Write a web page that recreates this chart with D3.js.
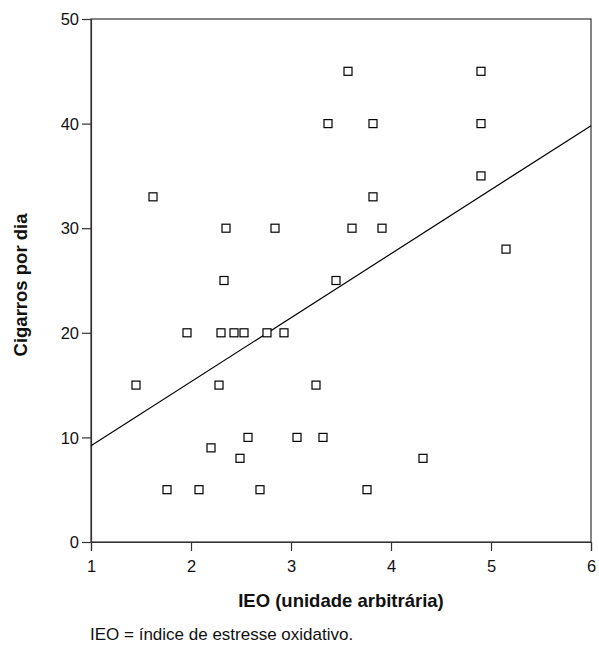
<!DOCTYPE html>
<html>
<head>
<meta charset="utf-8">
<script src="https://cdn.jsdelivr.net/npm/d3@7"></script>
<style>
  html, body { margin: 0; padding: 0; background: #fff; }
  svg { display: block; font-family: "Liberation Sans", Arial, Helvetica, sans-serif; }
</style>
</head>
<body>
<svg id="chart" width="599" height="645"></svg>
<script>
// IEO (arbitrary units) and cigarettes per day for each subject
const ieoValues = [3.57, 4.90, 3.37, 3.82, 4.90,
  1.62, 3.82, 4.90, 2.35, 2.84, 3.61, 3.91, 5.15, 2.33, 3.45,
  1.96, 2.30, 2.43, 2.53, 2.76, 2.93,
  1.45, 2.28, 3.25,
  2.57, 3.06, 3.32,
  2.20, 2.49, 4.32,
  1.76, 2.08, 2.69, 3.76];
const cigarettesValues = [45, 45, 40, 40, 40,
  33, 33, 35, 30, 30, 30, 30, 28, 25, 25,
  20, 20, 20, 20, 20, 20,
  15, 15, 15,
  10, 10, 10,
  9, 8, 8,
  5, 5, 5, 5];
// fitted regression line endpoints
const fitX = [1, 6];
const fitY = [9.2, 39.8];
const xTicks = [1, 2, 3, 4, 5, 6];
const yTicks = [0, 10, 20, 30, 40, 50];
const xTitle = "IEO (unidade arbitrária)";
const yTitle = "Cigarros por dia";
const footnote = "IEO = índice de estresse oxidativo.";

(function () {
const svg = d3.select("#chart");
const mLeft = 91, mRight = 591, mTop = 19, mBottom = 542;

const x = d3.scaleLinear().domain([1, 6]).range([mLeft, mRight]);
const y = d3.scaleLinear().domain([0, 50]).range([mBottom, mTop]);

const axisColor = "#333";
const fontFam = '"Liberation Sans", Arial, Helvetica, sans-serif';

// frame
svg.append("rect")
  .attr("x", mLeft).attr("y", mTop)
  .attr("width", mRight - mLeft).attr("height", mBottom - mTop)
  .attr("fill", "none").attr("stroke", axisColor).attr("stroke-width", 1.2);

const xAxis = svg.append("g")
  .attr("transform", `translate(0,${mBottom})`)
  .call(d3.axisBottom(x).tickValues(xTicks).tickFormat(d3.format("d")).tickSize(9).tickPadding(9));
const yAxis = svg.append("g")
  .attr("transform", `translate(${mLeft},0)`)
  .call(d3.axisLeft(y).tickValues(yTicks).tickFormat(d3.format("d")).tickSize(9).tickPadding(3));

[xAxis, yAxis].forEach(g => {
  g.select(".domain").attr("stroke", axisColor).attr("stroke-width", 1.2);
  g.selectAll(".tick line").attr("stroke", axisColor).attr("stroke-width", 1.2);
  g.selectAll(".tick text")
    .attr("fill", "#111")
    .style("font-size", "16.5px")
    .style("font-family", fontFam);
});
yAxis.selectAll(".tick text").attr("dy", "0.35em");

// regression line
svg.append("line")
  .attr("x1", x(fitX[0])).attr("y1", y(fitY[0]))
  .attr("x2", x(fitX[1])).attr("y2", y(fitY[1]))
  .attr("stroke", "#000").attr("stroke-width", 1.2);

// points
const s = 8;
svg.append("g").selectAll("rect")
  .data(ieoValues.map((v, i) => [v, cigarettesValues[i]]))
  .join("rect")
  .attr("x", d => x(d[0]) - s / 2)
  .attr("y", d => y(d[1]) - s / 2)
  .attr("width", s).attr("height", s)
  .attr("fill", "#fff").attr("stroke", "#000").attr("stroke-width", 1.2);

// titles
svg.append("text")
  .attr("x", 341).attr("y", 607)
  .attr("text-anchor", "middle")
  .style("font-size", "18.5px").style("font-weight", "bold")
  .attr("fill", "#111")
  .text(xTitle);

svg.append("text")
  .attr("transform", `translate(27,285) rotate(-90)`)
  .attr("text-anchor", "middle")
  .style("font-size", "18.5px").style("font-weight", "bold")
  .attr("fill", "#111")
  .text(yTitle);

svg.append("text")
  .attr("x", 90).attr("y", 640)
  .style("font-size", "17px")
  .attr("fill", "#111")
  .text(footnote);
})();
</script>
</body>
</html>
